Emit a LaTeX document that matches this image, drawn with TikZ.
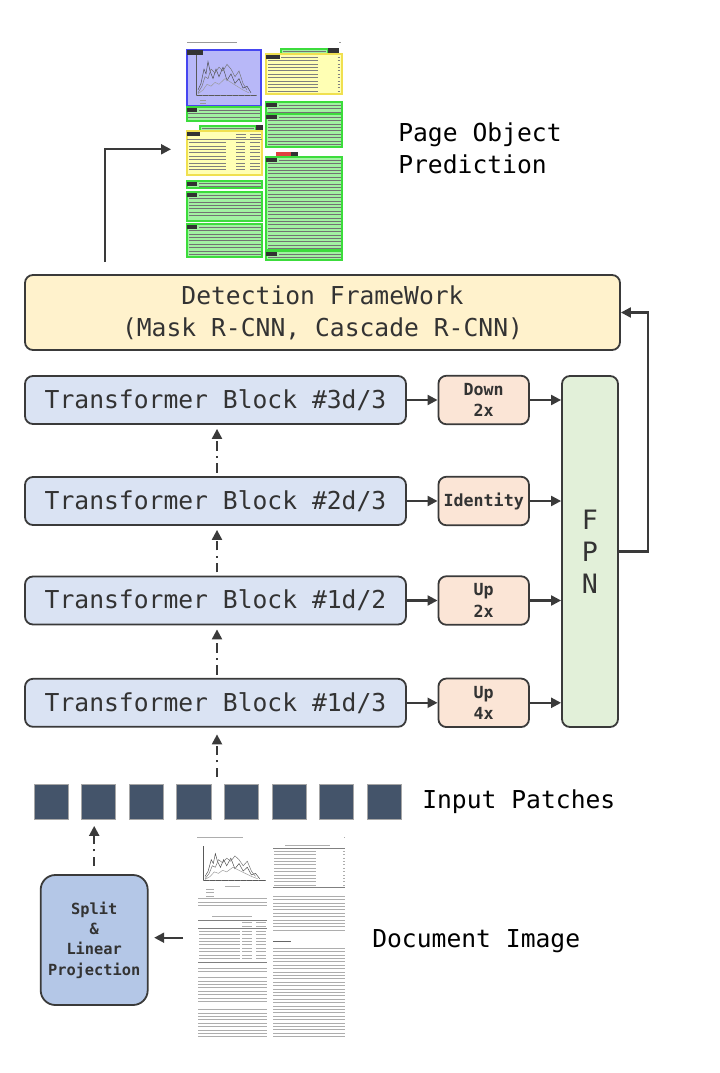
\documentclass[tikz,border=0pt]{standalone}
\usepackage{fontspec}
\setmonofont{DejaVu Sans Mono}
\usetikzlibrary{arrows.meta}
\definecolor{edge}{HTML}{3A3A3A}
\definecolor{txtc}{HTML}{333333}
\definecolor{detf}{HTML}{FFF2CC}
\definecolor{trf}{HTML}{DAE3F3}
\definecolor{orf}{HTML}{FBE5D6}
\definecolor{fpnf}{HTML}{E2F0D9}
\definecolor{splf}{HTML}{B4C7E7}
\definecolor{patf}{HTML}{44546A}
\definecolor{pgf}{HTML}{A2F2A2}
\definecolor{pge}{HTML}{3CDC3C}
\definecolor{pyf}{HTML}{FFFFB4}
\definecolor{pye}{HTML}{F0E050}
\definecolor{pbf}{HTML}{B8B8F8}
\definecolor{pbe}{HTML}{4646F0}
\definecolor{redtag}{HTML}{E04040}
\newcommand\txl[5][]{\foreach \i in {1,...,#5}{\draw[txtl,#1] (#2,{#4+(\i-1)*3.4}) -- (#3,{#4+(\i-1)*3.4});}}
\newcommand\plotlines{%
  \draw[black!65,line width=0.3pt] (0,0) -- (0,45) -- (61,45);
  \foreach \t in {0,6,...,60} \draw[black!50,line width=0.2pt] (\t,45) -- (\t,46.5);
  \draw[black!70,line width=0.35pt] (2,40) -- (5,33) -- (8,18) -- (10,23) -- (12,10) -- (14,20) -- (17,28) -- (20,18) -- (23,26) -- (27,16) -- (31,30) -- (35,23) -- (39,33) -- (43,28) -- (47,38) -- (51,36) -- (55,43);
  \draw[black!55,line width=0.35pt] (2,43) -- (6,36) -- (9,26) -- (12,28) -- (15,18) -- (19,22) -- (23,16) -- (27,20) -- (31,13) -- (35,18) -- (39,26) -- (43,20) -- (47,33) -- (51,40);
  \draw[black!40,line width=0.35pt] (2,44) -- (7,40) -- (11,34) -- (15,36) -- (19,32) -- (23,34) -- (29,28) -- (35,32) -- (41,36) -- (47,40) -- (53,43);
}
\begin{document}
\begin{tikzpicture}[x=0.75pt,y=-0.75pt,
  box/.style={draw=edge, line width=1.35pt, rounded corners=6pt, inner sep=0pt, text=txtc, align=center},
  arr/.style={draw=edge, line width=1.6pt, -{Triangle[length=7.5pt,width=7.5pt]}},
  dd/.style={arr, dash pattern=on 7pt off 4pt on 1.5pt off 4pt},
  bigf/.style={font=\ttfamily\fontsize{18.5}{24}\selectfont},
  smallf/.style={font=\ttfamily\bfseries\fontsize{12.5}{16.2}\selectfont},
  trbox/.style={box, bigf, fill=trf, minimum width=285.75pt, minimum height=36pt},
  orbox/.style={box, smallf, fill=orf, minimum width=67.9pt, minimum height=36.4pt},
  patch/.style={draw=black!35, line width=0.8pt, fill=patf, minimum width=25.7pt, minimum height=26.5pt, inner sep=0pt},
  lab/.style={bigf, text=black, anchor=west, align=left, inner sep=0pt},
  txtl/.style={black!40, line width=0.4pt},
  pg/.style={fill=pgf, draw=pge, line width=0.8pt},
  py/.style={fill=pyf, draw=pye, line width=0.8pt},
  pb/.style={fill=pbf, draw=pbe, line width=0.9pt},
  tag/.style={fill=black!80},
]
\useasboundingbox (0,0) rectangle (720,1073);

% ---------- top page image (page object prediction) ----------
\node[inner sep=0pt, minimum width=120pt, minimum height=168pt] (page1) at (265,150) {};
\draw[txtl] (187,42) -- (237,42); \draw[txtl] (339,42) -- (341,42);
% left column
\draw[pb] (187,50) rectangle (261,106);
\begin{scope}[shift={(196,52)}, yscale=0.95]\plotlines\end{scope}
\draw[txtl] (200,100.5) -- (206,100.5); \draw[txtl] (200,103) -- (206,103);
\fill[tag] (187,50) rectangle (203,55);
\draw[pg] (187,107) rectangle (261,121);
\fill[tag] (187,108) rectangle (197,112);
\txl[black!55]{199}{260}{110}{1} \txl[black!55]{188}{260}{113.5}{2}
\draw[pg] (200,126) rectangle (256,130.5);
\txl[black!55]{202}{254}{128.3}{1}
\fill[tag] (256,125.5) rectangle (263,131);
\draw[py] (187,131) rectangle (262,175);
\fill[tag] (187,132) rectangle (200,136);
\txl[black!50]{236}{246}{134}{2} \txl[black!50]{250}{261}{134}{2}
\draw[black!50,line width=0.3pt] (187,139.5) -- (262,139.5);
\txl[black!50]{189}{226}{142.5}{9} \txl[black!50]{236}{245}{142.5}{9} \txl[black!50]{250}{260}{142.5}{9}
\draw[pg] (187,181) rectangle (262,188);
\fill[tag] (187,182) rectangle (197,186);
\txl[black!55]{199}{261}{183}{2}
\draw[pg] (187,192) rectangle (262,221);
\fill[tag] (187,193) rectangle (197,197);
\txl[black!55]{199}{261}{195}{1} \txl[black!55]{189}{261}{198.4}{6}
\draw[pg] (187,224) rectangle (262,257);
\fill[tag] (187,225) rectangle (197,229);
\txl[black!55]{199}{261}{227}{1} \txl[black!55]{189}{261}{230.4}{8}
% right column
\draw[pg] (281,49) rectangle (328,53.5);
\txl[black!55]{283}{326}{51.2}{1}
\fill[tag] (328,48.5) rectangle (339,54);
\draw[py] (266,54) rectangle (342,94);
\fill[tag] (266,55) rectangle (280,59);
\txl[black!50]{281}{318}{57}{1}
\txl[black!50]{268}{318}{60.4}{10}
\txl[black!50]{337.5}{340}{57}{11}
\draw[pg] (266,102) rectangle (342,113);
\fill[tag] (266,103) rectangle (277,107);
\txl[black!55]{279}{341}{105}{1} \txl[black!55]{268}{341}{108.4}{2}
\draw[pg] (266,114) rectangle (342,147);
\fill[tag] (266,115) rectangle (277,119);
\txl[black!55]{279}{341}{117}{1} \txl[black!55]{268}{341}{120.4}{8}
\fill[redtag] (276,152) rectangle (291,156.5);
\fill[tag] (291,152) rectangle (298,156.5);
\draw[pg] (266,157) rectangle (342,250);
\fill[tag] (266,158) rectangle (277,162);
\txl[black!55]{279}{341}{160}{1} \txl[black!55]{268}{341}{163.4}{26}
\draw[pg] (266,251) rectangle (342,260);
\fill[tag] (266,252) rectangle (277,256);
\txl[black!55]{279}{341}{254}{1} \txl[black!55]{268}{341}{257.4}{1}

% ---------- labels ----------
\node[lab] (predlab) at (398,148.5) {Page Object\\Prediction};
\node[lab] (inplab) at (422,801.5) {Input Patches};
\node[lab] (doclab) at (372,941) {Document Image};

% ---------- detection framework ----------
\node[box, bigf, fill=detf, minimum width=446.25pt, minimum height=56.25pt] (det) at (322.5,312.5)
  {Detection FrameWork\\(Mask R-CNN, Cascade R-CNN)};

% ---------- transformer blocks ----------
\node[trbox] (t1) at (215.5,400) {Transformer Block \#3d/3};
\node[trbox] (t2) at (215.5,501) {Transformer Block \#2d/3};
\node[trbox] (t3) at (215.5,600.5) {Transformer Block \#1d/2};
\node[trbox] (t4) at (215.5,702.8) {Transformer Block \#1d/3};

\node[orbox] (o1) at (483.7,400) {Down\\2x};
\node[orbox] (o2) at (483.7,501) {Identity};
\node[orbox] (o3) at (483.7,600.5) {Up\\2x};
\node[orbox] (o4) at (483.7,702.8) {Up\\4x};

\node[box, fill=fpnf, minimum width=42pt, minimum height=263.25pt,
  font=\ttfamily\fontsize{20}{24}\selectfont] (fpn) at (590,551.5) {F\\P\\N};

% ---------- patches ----------
\foreach \k in {1,...,8}
  \node[patch] (p\k) at ({51.2+47.6*(\k-1)},801.7) {};

% ---------- split box ----------
\node[box, rounded corners=11pt, fill=splf, minimum width=80.25pt, minimum height=97.5pt,
  font=\ttfamily\bfseries\fontsize{11.5}{15.2}\selectfont] (split) at (94.2,940)
  {Split\\\&\\Linear\\Projection};

% ---------- bottom page image (document image) ----------
\node[inner sep=0pt, minimum width=111pt, minimum height=152pt] (page2) at (271,936.5) {};
\begin{scope}[txtl/.style={black!32, line width=0.45pt}]
\draw[txtl] (197,837.7) -- (243,837.7); \draw[txtl] (344,837.7) -- (345,837.7);
\begin{scope}[shift={(203,846)}, yscale=0.76, xscale=1.03]\plotlines\end{scope}
\draw[txtl] (225,886) -- (240,886);
\txl{206}{214}{889}{3}
\txl{198}{267}{898.5}{3}
\draw[txtl] (212,916.7) -- (252,916.7);
\draw[black!50,line width=0.4pt] (198,920) -- (267,920);
\txl{242}{252}{922.5}{2} \txl{256}{266}{922.5}{2}
\draw[black!50,line width=0.3pt] (198,928.5) -- (267,928.5);
\txl{199}{240}{931}{9} \txl{242}{252}{931}{9} \txl{256}{266}{931}{9}
\draw[black!50,line width=0.4pt] (198,962) -- (267,962);
\txl{198}{267}{968}{2}
\txl{198}{267}{977.5}{8}
\txl{198}{267}{1009.5}{9}
\draw[txtl] (285,845) -- (330,845);
\draw[black!50,line width=0.4pt] (273,848) -- (345,848);
\txl{274}{316}{851}{11} \txl{343}{344.5}{851}{11}
\draw[black!50,line width=0.4pt] (273,887) -- (345,887);
\txl{273}{345}{896}{11}
\draw[black!60, line width=0.8pt] (273,941.7) -- (291,941.7);
\txl{273}{345}{948}{27}
\end{scope}

% ---------- connectors ----------
\coordinate (predstart) at (105,262);
\coordinate (predend) at (171,149.3);
\draw[arr] (predstart) |- (predend);

\draw[arr] (fpn.east) -- ++(28.7,0) |- (det.east);

\draw[dd, shorten <=2.5pt, shorten >=3pt] (t2.north -| 217,0) -- (t1.south -| 217,0);
\draw[dd, shorten <=2.5pt, shorten >=3pt] (t3.north -| 217,0) -- (t2.south -| 217,0);
\draw[dd, shorten <=2.5pt, shorten >=3pt] (t4.north -| 217,0) -- (t3.south -| 217,0);
\coordinate (pin) at (217,777);
\draw[dd, shorten >=5pt] (pin) -- (t4.south -| pin);

\draw[arr] (t1.east) -- (o1.west);
\draw[arr] (t2.east) -- (o2.west);
\draw[arr] (t3.east) -- (o3.west);
\draw[arr] (t4.east) -- (o4.west);
\draw[arr] (o1.east) -- (o1.east -| fpn.west);
\draw[arr] (o2.east) -- (o2.east -| fpn.west);
\draw[arr] (o3.east) -- (o3.east -| fpn.west);
\draw[arr] (o4.east) -- (o4.east -| fpn.west);

\draw[dd, shorten <=6pt, shorten >=4.5pt] (split.north) -- (split.north |- p2.south);

\coordinate (docarr) at (183,937.7);
\draw[arr, shorten >=4.2pt] (docarr) -- (docarr -| split.east);
\end{tikzpicture}
\end{document}
